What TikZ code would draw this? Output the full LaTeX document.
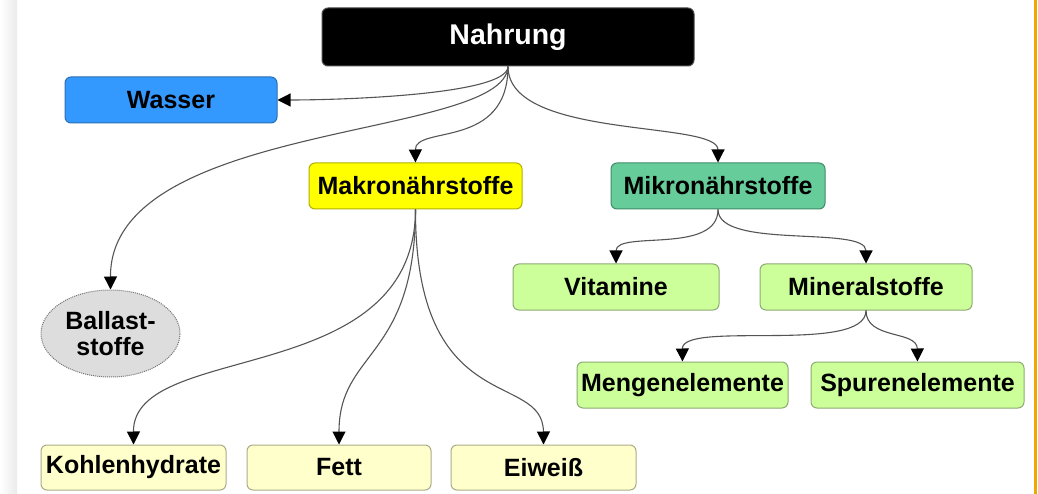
\documentclass[tikz,border=0pt]{standalone}
\usepackage{fontspec}
\setmainfont{Liberation Sans}
\usetikzlibrary{arrows.meta,shapes.geometric}
\definecolor{cwasser}{HTML}{3399FF}
\definecolor{cwasserb}{HTML}{2C6FB5}
\definecolor{cmakro}{HTML}{FFFF00}
\definecolor{cmakrob}{HTML}{B0B000}
\definecolor{cmikro}{HTML}{66CC99}
\definecolor{cmikrob}{HTML}{3E8C68}
\definecolor{clgreen}{HTML}{CCFF99}
\definecolor{clgreenb}{HTML}{8DAA72}
\definecolor{clyellow}{HTML}{FFFFCC}
\definecolor{clyellowb}{HTML}{ABAB8A}
\definecolor{cgrayf}{HTML}{DDDDDD}
\definecolor{cline}{HTML}{555555}
\definecolor{corange}{HTML}{EFA800}
\tikzset{
  box/.style={rectangle, rounded corners=6pt, line width=1pt, inner sep=0pt,
    minimum height=46pt, font=\fontsize{25}{28}\selectfont\bfseries, text=black},
  conn/.style={draw=cline, line width=1.1pt, -{Triangle[length=13pt,width=13pt,fill=black,color=black]}},
}
\begin{document}
\begin{tikzpicture}[x=1pt,y=-1pt]
\useasboundingbox (0,0) rectangle (1038,494);
\fill[white] (0,0) rectangle (1038,494);
\shade[left color=white, right color=black!8] (0,0) rectangle (17,494);
\fill[corange] (1034,0) rectangle (1037,494);

\node[box, fill=black, draw=black!70, text=white, minimum width=372pt, minimum height=58pt,
  font=\fontsize{28.5}{31}\selectfont\bfseries] (nahrung) at (508,37) {Nahrung};
\node[box, fill=cwasser, draw=cwasserb, minimum width=212pt] (wasser) at (171,100) {Wasser};
\node[box, fill=cmakro, draw=cmakrob, minimum width=213pt] (makro) at (415.5,186) {Makronährstoffe};
\node[box, fill=cmikro, draw=cmikrob, minimum width=214pt] (mikro) at (718,186) {Mikronährstoffe};
\node[ellipse, fill=cgrayf, draw=black!55, densely dotted, line width=1pt, minimum width=139pt, minimum height=87pt,
  inner sep=0pt, align=center, font=\fontsize{25}{26}\selectfont\bfseries] (ballast) at (110.5,333.5) {Ballast-\\stoffe};
\node[box, fill=clgreen, draw=clgreenb, minimum width=206pt] (vitamine) at (616,287) {Vitamine};
\node[box, fill=clgreen, draw=clgreenb, minimum width=212pt] (mineral) at (866,287) {Mineralstoffe};
\node[box, fill=clgreen, draw=clgreenb, minimum width=211pt] (mengen) at (682.5,385) {Mengenelemente};
\node[box, fill=clgreen, draw=clgreenb, minimum width=213pt] (spuren) at (917.5,385) {Spurenelemente};
\node[box, fill=clyellow, draw=clyellowb, minimum width=185pt, minimum height=45pt] (kohlen) at (133.5,467.5) {Kohlenhydrate};
\node[box, fill=clyellow, draw=clyellowb, minimum width=184pt, minimum height=45pt] (fett) at (339,467.5) {Fett};
\node[box, fill=clyellow, draw=clyellowb, minimum width=185pt, minimum height=45pt] (eiweiss) at (543.5,467.5) {Eiweiß};

\draw[conn] (nahrung.south) .. controls (508,95) and (340,100) .. (wasser.east);
\draw[conn] (nahrung.south) .. controls (505,140) and (110,120) .. (ballast.north);
\draw[conn] (nahrung.south) .. controls (508,150) and (415,125) .. (makro.north);
\draw[conn] (nahrung.south) .. controls (508,140) and (718,120) .. (mikro.north);

\draw[conn] (makro.south) .. controls (415,390) and (133,340) .. (kohlen.north);
\draw[conn] (makro.south) .. controls (415,360) and (339,350) .. (fett.north);
\draw[conn] (makro.south) .. controls (415,420) and (543,370) .. (eiweiss.north);

\draw[conn] (mikro.south) .. controls (718,255) and (616,230) .. (vitamine.north);
\draw[conn] (mikro.south) .. controls (718,250) and (866,225) .. (mineral.north);

\draw[conn] (mineral.south) .. controls (866,355) and (682,320) .. (mengen.north);
\draw[conn] (mineral.south) .. controls (866,340) and (917,330) .. (spuren.north);
\end{tikzpicture}
\end{document}
